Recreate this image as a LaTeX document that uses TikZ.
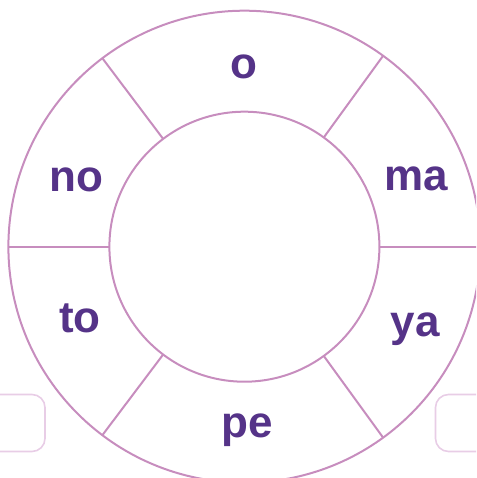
\documentclass[tikz,border=0pt]{standalone}
\usepackage{fontspec}
\setmainfont{Liberation Sans}
\definecolor{ringline}{HTML}{C78DBE}
\definecolor{tabline}{HTML}{E8CDE6}
\definecolor{syllable}{HTML}{553388}
\tikzset{
  ring/.style={draw=ringline, line width=2pt},
  tabbox/.style={draw=tabline, line width=1.6pt, rounded corners=13pt},
  syl/.style={text=syllable, font=\fontsize{44}{52}\bfseries\selectfont, anchor=base, inner sep=0pt}
}
\begin{document}
\begin{tikzpicture}[x=1pt, y=-1pt]
    \useasboundingbox (0,0) rectangle (476,478);
    \clip (0,0) rectangle (476,478);
    % side tabs
    \draw[tabbox] (-30,394.5) rectangle (45,451.5);
    \draw[tabbox] (435.5,394.5) rectangle (510,451.5);
    % ring
    \coordinate (c) at (244.4,246.7);
    \draw[ring] (c) circle[radius=236];
    \draw[ring] (c) circle[radius=135];
    \begin{scope}[shift={(c)}]
        \foreach \a in {0,54,127,180,233,306}
            \draw[ring] (\a:135) -- (\a:236);
    \end{scope}
    % syllables
    \node[syl] (o)  at (244.4,79)  {o};
    \node[syl] (no) at (76,191)    {no};
    \node[syl] (ma) at (416,190)   {ma};
    \node[syl] (to) at (80,332)    {to};
    \node[syl] (ya) at (415,336)   {ya};
    \node[syl] (pe) at (247,437)   {pe};
\end{tikzpicture}
\end{document}
